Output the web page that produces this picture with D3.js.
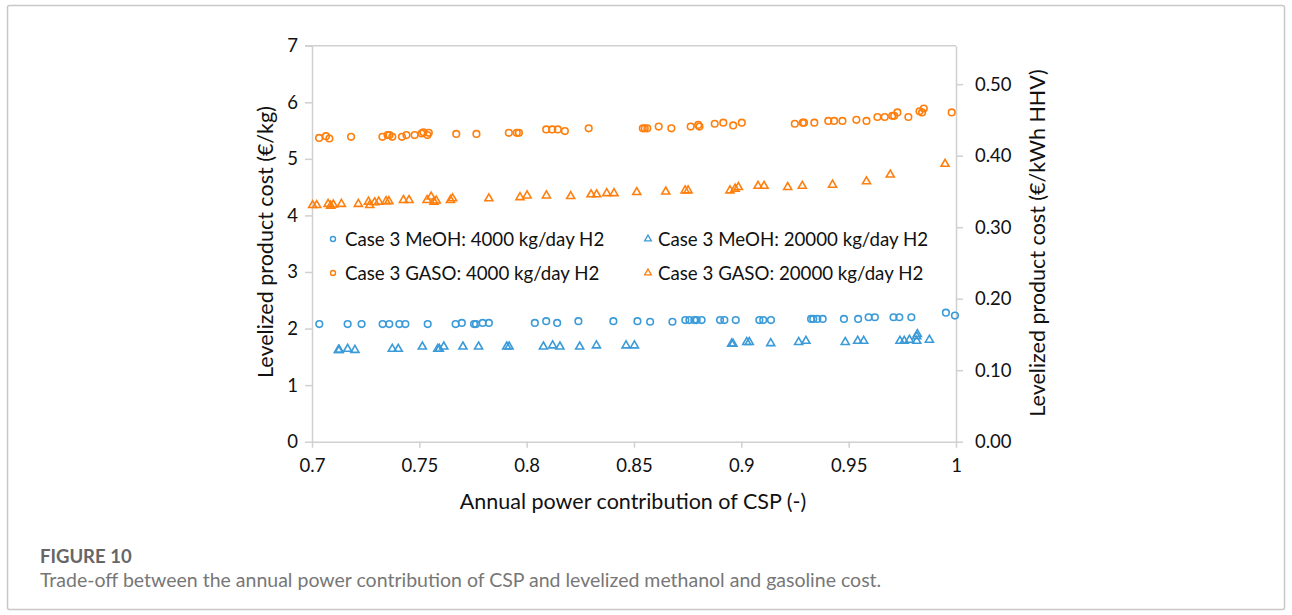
<!DOCTYPE html>
<html><head><meta charset="utf-8">
<script src="https://cdn.jsdelivr.net/npm/d3@7"></script>
<style>body{margin:0;background:#fff;} svg{display:block;}</style>
</head><body>
<svg id="c" width="1292" height="615"></svg>
<script>
// ---- data ----
const meoh4000X = [0.7034,0.7166,0.7231,0.7329,0.7360,0.7407,0.7435,0.7539,0.7669,0.7698,0.7755,0.7764,0.7795,0.7824,0.8038,0.8091,0.8142,0.8241,0.8404,0.8516,0.8575,0.8679,0.8739,0.8758,0.8781,0.8792,0.8815,0.8901,0.8921,0.8974,0.9084,0.9102,0.9138,0.9325,0.9335,0.9354,0.9379,0.9478,0.9544,0.9593,0.9622,0.9709,0.9736,0.9792,0.9953,0.9995];
const meoh4000Y = [2.08,2.08,2.08,2.08,2.08,2.08,2.08,2.08,2.08,2.10,2.08,2.08,2.10,2.10,2.10,2.13,2.10,2.13,2.13,2.13,2.12,2.12,2.15,2.15,2.15,2.15,2.15,2.15,2.15,2.15,2.15,2.15,2.15,2.17,2.17,2.17,2.17,2.17,2.17,2.20,2.20,2.20,2.20,2.20,2.28,2.23];
const meoh20000X = [0.7123,0.7127,0.7166,0.7200,0.7374,0.7402,0.7514,0.7586,0.7593,0.7614,0.7703,0.7776,0.7907,0.7918,0.8078,0.8121,0.8155,0.8247,0.8325,0.8463,0.8502,0.8955,0.8961,0.9025,0.9037,0.9137,0.9267,0.9301,0.9484,0.9542,0.9570,0.9739,0.9759,0.9783,0.9817,0.9817,0.9820,0.9876];
const meoh20000Y = [1.62,1.62,1.64,1.62,1.64,1.64,1.68,1.64,1.64,1.68,1.68,1.68,1.68,1.68,1.68,1.70,1.68,1.68,1.70,1.70,1.70,1.73,1.73,1.76,1.76,1.74,1.76,1.78,1.76,1.78,1.78,1.78,1.78,1.80,1.78,1.86,1.90,1.80];
const gaso4000X = [0.7033,0.7065,0.7081,0.7182,0.7328,0.7352,0.7361,0.7374,0.7419,0.7440,0.7478,0.7511,0.7519,0.7538,0.7544,0.7672,0.7766,0.7917,0.7954,0.7964,0.8091,0.8119,0.8145,0.8178,0.8289,0.8541,0.8550,0.8562,0.8615,0.8674,0.8764,0.8799,0.8805,0.8876,0.8916,0.8962,0.9002,0.9249,0.9286,0.9292,0.9340,0.9405,0.9432,0.9471,0.9536,0.9583,0.9634,0.9668,0.9703,0.9712,0.9727,0.9778,0.9830,0.9842,0.9850,0.9980];
const gaso4000Y = [5.37,5.40,5.36,5.39,5.39,5.42,5.42,5.39,5.39,5.42,5.42,5.45,5.47,5.42,5.46,5.44,5.44,5.46,5.46,5.46,5.52,5.52,5.52,5.49,5.54,5.54,5.54,5.54,5.57,5.54,5.57,5.60,5.57,5.62,5.64,5.59,5.64,5.62,5.64,5.64,5.64,5.67,5.67,5.67,5.69,5.67,5.74,5.74,5.76,5.76,5.82,5.74,5.84,5.82,5.89,5.82];
const gaso20000X = [0.7003,0.7022,0.7075,0.7087,0.7099,0.7137,0.7216,0.7263,0.7269,0.7292,0.7311,0.7345,0.7358,0.7426,0.7452,0.7536,0.7555,0.7568,0.7579,0.7645,0.7655,0.7824,0.7969,0.8002,0.8092,0.8205,0.8300,0.8326,0.8373,0.8407,0.8513,0.8648,0.8738,0.8752,0.8947,0.8971,0.8986,0.9078,0.9106,0.9216,0.9284,0.9425,0.9583,0.9694,0.9949];
const gaso20000Y = [4.18,4.18,4.20,4.17,4.19,4.20,4.20,4.24,4.18,4.23,4.24,4.25,4.25,4.27,4.27,4.27,4.33,4.24,4.26,4.27,4.30,4.30,4.32,4.35,4.35,4.34,4.37,4.37,4.39,4.39,4.41,4.42,4.44,4.44,4.44,4.47,4.50,4.52,4.52,4.50,4.52,4.54,4.60,4.72,4.91];

const xTicks = [0.7,0.75,0.8,0.85,0.9,0.95,1];
const xTickLabels = ["0.7","0.75","0.8","0.85","0.9","0.95","1"];
const yTicks = [0,1,2,3,4,5,6,7];
const y2Ticks = [0,0.1,0.2,0.3,0.4,0.5];
const seriesNames = ["Case 3 MeOH: 4000 kg/day H2","Case 3 MeOH: 20000 kg/day H2","Case 3 GASO: 4000 kg/day H2","Case 3 GASO: 20000 kg/day H2"];

const BLUE = "#3b9bd8", ORANGE = "#ff7f0e";
const FONT = "Lato, 'Open Sans', sans-serif";

const svg = d3.select("#c");
// outer frame
svg.append("rect").attr("x",7.5).attr("y",5.5).attr("width",1277).attr("height",604)
  .attr("fill","none").attr("stroke","#c8c8c8").attr("stroke-width",1.5).attr("rx",2);

const L = 312, R = 956, T = 45.7, B = 441.7;
const x = d3.scaleLinear().domain([0.7,1]).range([L,R]);
const y = d3.scaleLinear().domain([0,7]).range([B,T]);
const y2 = d3.scaleLinear().domain([0,0.5538]).range([B,T]);

const axisColor = "#d0d0d0";
svg.append("line").attr("x1",L-7).attr("x2",R).attr("y1",T).attr("y2",T).attr("stroke",axisColor).attr("stroke-width",1.5);

const gx = svg.append("g").attr("transform",`translate(0,${B})`)
  .call(d3.axisBottom(x).tickValues(xTicks).tickFormat((d,i)=>xTickLabels[i]).tickSize(6).tickSizeOuter(0));
const gy = svg.append("g").attr("transform",`translate(${L},0)`)
  .call(d3.axisLeft(y).tickValues(yTicks).tickFormat(d3.format("d")).tickSize(7).tickSizeOuter(0));
const gy2 = svg.append("g").attr("transform",`translate(${R},0)`)
  .call(d3.axisRight(y2).tickValues(y2Ticks).tickFormat(d3.format(".2f")).tickSize(7).tickSizeOuter(0));
[gx,gy,gy2].forEach(g=>{
  g.selectAll(".domain").attr("stroke",axisColor).attr("stroke-width",1.5);
  g.selectAll(".tick line").attr("stroke",axisColor).attr("stroke-width",1.5);
  g.selectAll(".tick text").attr("fill","#111").attr("font-family",FONT).attr("font-size",18.5);
});
gx.selectAll(".tick text").attr("dy","1.15em");
gy.selectAll(".tick text").attr("x",-14);
gy2.selectAll(".tick text").attr("x",19);

// axis titles
svg.append("text").attr("x",633).attr("y",509).attr("text-anchor","middle")
  .attr("font-family",FONT).attr("font-size",21.5).attr("fill","#111").text("Annual power contribution of CSP (-)");
svg.append("text").attr("transform","translate(273,242) rotate(-90)").attr("text-anchor","middle")
  .attr("font-family",FONT).attr("font-size",21.5).attr("fill","#111").text("Levelized product cost (€/kg)");
svg.append("text").attr("transform","translate(1045,243) rotate(-90)").attr("text-anchor","middle")
  .attr("font-family",FONT).attr("font-size",21.5).attr("fill","#111").text("Levelized product cost (€/kWh HHV)");

// markers
const tri = d3.symbol().type(d3.symbolTriangle).size(28);
function circles(xs, ys, color){
  svg.append("g").selectAll("circle").data(xs).join("circle")
    .attr("cx",(d)=>x(d)).attr("cy",(d,i)=>y(ys[i])).attr("r",3.3)
    .attr("fill","none").attr("stroke",color).attr("stroke-width",1.6);
}
function triangles(xs, ys, color){
  svg.append("g").selectAll("path").data(xs).join("path")
    .attr("d",tri).attr("transform",(d,i)=>`translate(${x(d)},${y(ys[i])})`)
    .attr("fill","none").attr("stroke",color).attr("stroke-width",1.6);
}
circles(meoh4000X, meoh4000Y, BLUE);
triangles(meoh20000X, meoh20000Y, BLUE);
circles(gaso4000X, gaso4000Y, ORANGE);
triangles(gaso20000X, gaso20000Y, ORANGE);

// legend
const legend = [
  {name:seriesNames[0], c:BLUE, t:"c", lx:333, ly:239},
  {name:seriesNames[1], c:BLUE, t:"t", lx:648, ly:239},
  {name:seriesNames[2], c:ORANGE, t:"c", lx:333, ly:273},
  {name:seriesNames[3], c:ORANGE, t:"t", lx:648, ly:273}
];
legend.forEach(l=>{
  if(l.t==="c") svg.append("circle").attr("cx",l.lx).attr("cy",l.ly).attr("r",2.5).attr("fill","none").attr("stroke",l.c).attr("stroke-width",1.4);
  else svg.append("path").attr("d",d3.symbol().type(d3.symbolTriangle).size(20)).attr("transform",`translate(${l.lx},${l.ly})`).attr("fill","none").attr("stroke",l.c).attr("stroke-width",1.3);
  svg.append("text").attr("x",l.lx+(l.t==="c"?12:10)).attr("y",l.ly+6.5).attr("font-family",FONT).attr("font-size",18.7).attr("fill","#111").text(l.name);
});

// caption
svg.append("text").attr("x",40).attr("y",563).attr("font-family",FONT).attr("font-weight","bold").attr("font-size",18.5).attr("fill","#666").text("FIGURE 10");
svg.append("text").attr("x",40).attr("y",587).attr("font-family",FONT).attr("font-size",19.5).attr("fill","#777").text("Trade-off between the annual power contribution of CSP and levelized methanol and gasoline cost.");
</script>
</body></html>
